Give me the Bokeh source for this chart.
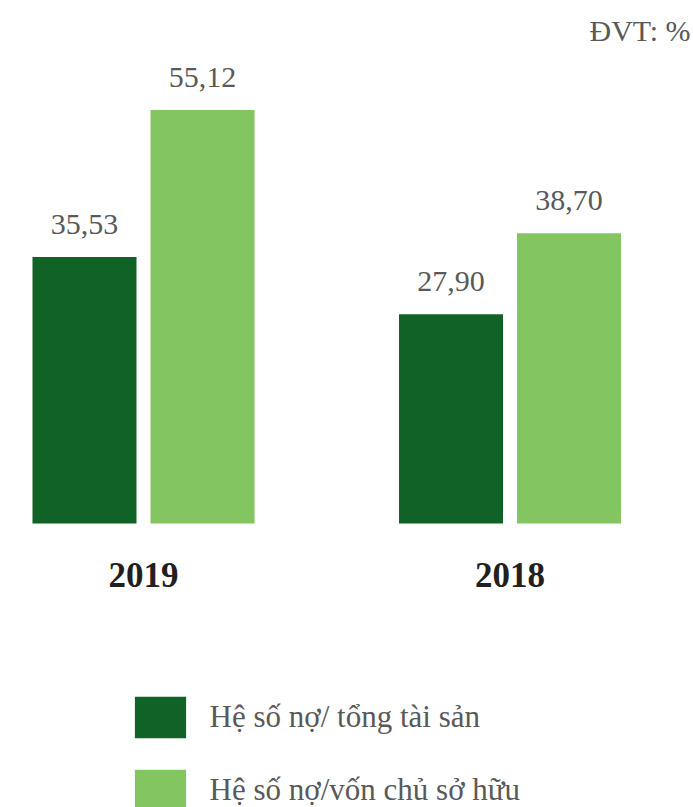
from bokeh.plotting import figure
from bokeh.models import ColumnDataSource, Range1d, Legend, LegendItem
from bokeh.core.properties import value
from bokeh.embed import file_html
from bokeh.resources import INLINE

years = ["2019", "2018"]
debt_to_assets = [35.53, 27.90]
debt_to_equity = [55.12, 38.70]
series_names = ["Hệ số nợ/ tổng tài sản", "Hệ số nợ/vốn chủ sở hữu"]
unit_label = "ĐVT: %"

def fmt(v):
    return f"{v:.2f}".replace(".", ",")

DARK = "#106227"
LIGHT = "#83C561"
GRAY = "#595959"
SERIF = "Liberation Serif"

W, H = 693, 807
xs = list(range(len(years)))
x_min = -143 / 366.5
x_max = x_min + W / 366.5
y_max = 523 / 7.5
y_min = y_max - H / 7.5
bar_w = 0.2838
off = 0.161

p = figure(width=W, height=H, output_backend="svg", toolbar_location=None,
           x_range=Range1d(x_min, x_max), y_range=Range1d(y_min, y_max),
           x_axis_location=None, y_axis_location=None, min_border=0)
p.outline_line_color = None
p.xgrid.visible = False
p.ygrid.visible = False

src = ColumnDataSource(dict(
    x=xs,
    xd=[x - off for x in xs],
    xl=[x + off for x in xs],
    a=debt_to_assets,
    e=debt_to_equity,
    at=[fmt(v) for v in debt_to_assets],
    et=[fmt(v) for v in debt_to_equity],
    year=years,
    zero=[0] * len(xs),
))

r1 = p.vbar(x="xd", top="a", bottom=0, width=bar_w, source=src,
            fill_color=DARK, line_color=None)
r2 = p.vbar(x="xl", top="e", bottom=0, width=bar_w, source=src,
            fill_color=LIGHT, line_color=None)

common = dict(text_font=value(SERIF), text_color=GRAY, text_font_size="30px",
              text_align="center", text_baseline="alphabetic", y_offset=-33)
p.text(x="xd", y="a", text="at", source=src, **common)
p.text(x="xl", y="e", text="et", source=src, **common)

p.text(x="x", y="zero", text="year", source=src, text_font=value(SERIF),
       text_font_style="bold", text_color="#231F20", text_font_size="35px",
       text_align="center", text_baseline="alphabetic", y_offset=51)

p.text(x=[x_max], y=[y_max], text=[unit_label], text_font=value(SERIF),
       text_color=GRAY, text_font_size="30px", text_align="right",
       text_baseline="alphabetic", x_offset=-3, y_offset=30)

legend = Legend(items=[LegendItem(label=series_names[0], renderers=[r1]),
                       LegendItem(label=series_names[1], renderers=[r2])],
                location=(127.6, -9), orientation="vertical",
                glyph_width=64, glyph_height=52, spacing=21,
                label_standoff=18, label_text_font=SERIF,
                label_text_font_size="31px", label_text_color=GRAY,
                padding=0, margin=0, border_line_color=None,
                background_fill_alpha=0)
p.add_layout(legend, "center")

open("out.html", "w").write(file_html(p, INLINE))
